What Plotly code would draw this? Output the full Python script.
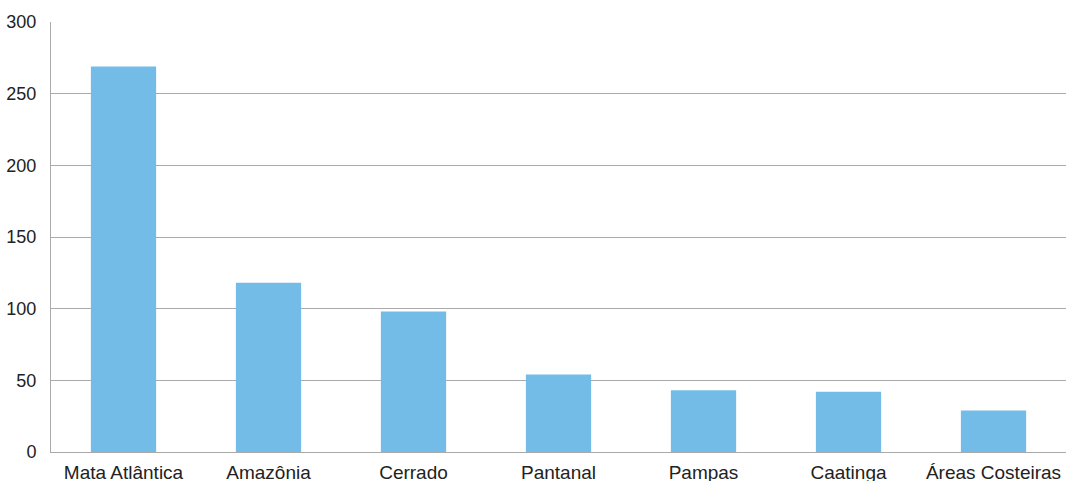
import plotly.graph_objects as go

# Bioma categories and their values
biomas = ["Mata Atlântica", "Amazônia", "Cerrado", "Pantanal", "Pampas", "Caatinga", "Áreas Costeiras"]
valores = [269, 118, 98, 54, 43, 42, 29]
y_ticks = [0, 50, 100, 150, 200, 250, 300]

fig = go.Figure(
    go.Bar(
        x=biomas,
        y=valores,
        marker=dict(color="#74bce8", line=dict(width=0)),
        width=0.45,
    )
)

fig.update_layout(
    width=1066,
    height=481,
    margin=dict(l=51, r=0, t=22, b=29, autoexpand=False),
    paper_bgcolor="white",
    plot_bgcolor="white",
    showlegend=False,
    font=dict(family="Liberation Sans, Arial, sans-serif", size=18, color="#222222"),
)

fig.update_xaxes(
    automargin=False,
    showgrid=False,
    showline=True,
    linecolor="#aaaaaa",
    linewidth=1,
    ticks="outside",
    ticklen=3,
    tickcolor="rgba(0,0,0,0)",
    tickfont=dict(size=19),
)

fig.update_yaxes(
    automargin=False,
    range=[0, 300],
    tickvals=y_ticks,
    showgrid=True,
    gridcolor="#aaaaaa",
    gridwidth=1,
    showline=True,
    linecolor="#aaaaaa",
    linewidth=1,
    zeroline=False,
    ticks="outside",
    ticklen=10,
    tickcolor="rgba(0,0,0,0)",
    tickfont=dict(size=18),
)

fig.write_html("out.html")
